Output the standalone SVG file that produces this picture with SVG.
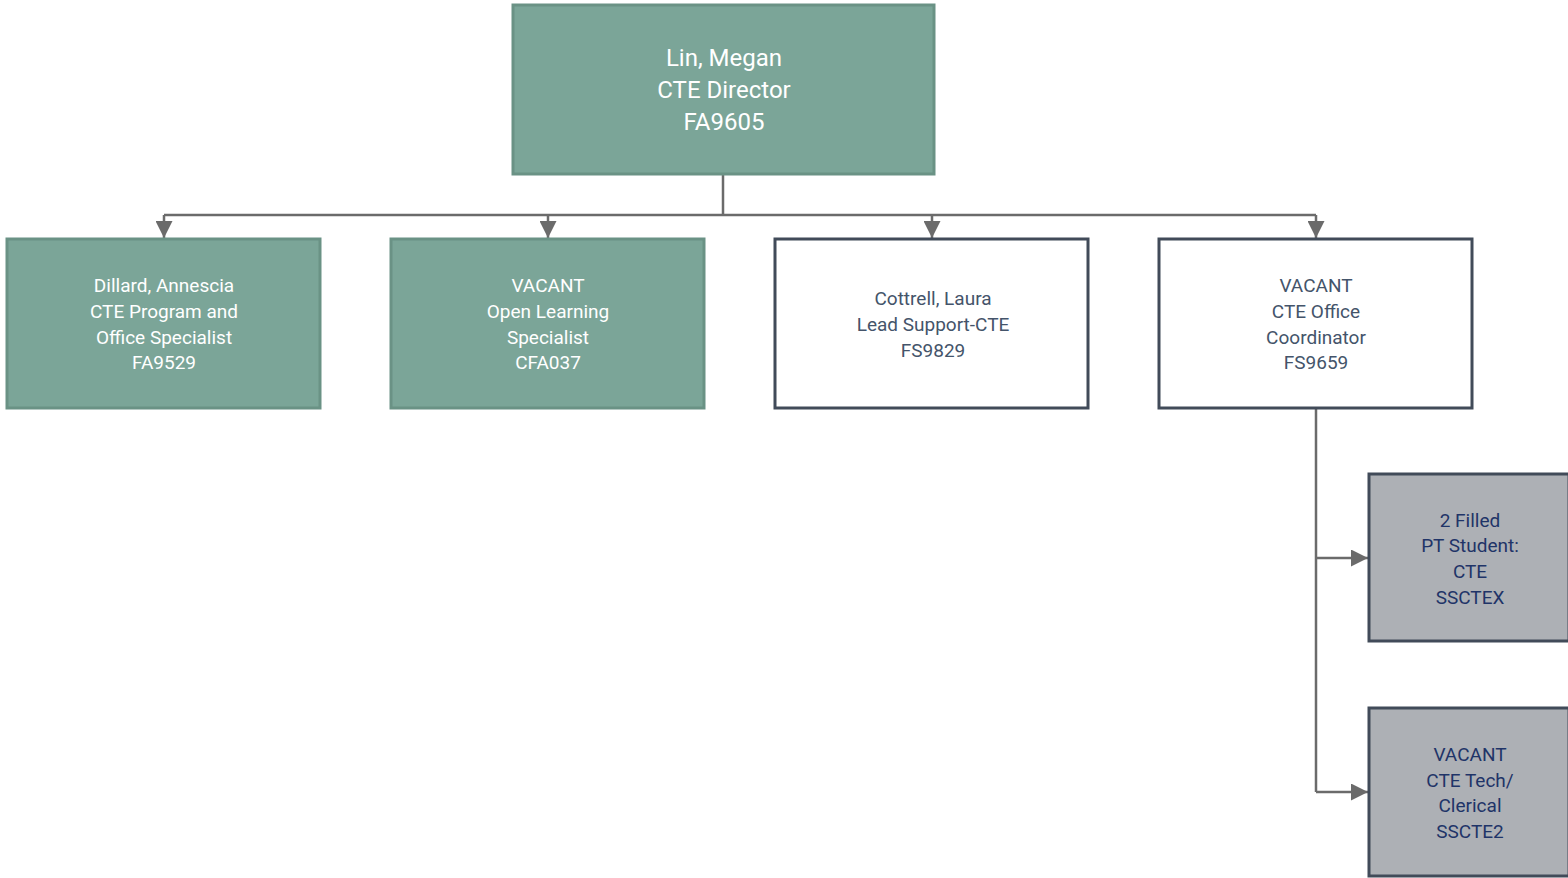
<svg xmlns="http://www.w3.org/2000/svg" width="1568" height="878" viewBox="0 0 1568 878">
<style>
.teal{fill:#7BA598;stroke:#6A9285;stroke-width:3}
.white{fill:#FFFFFF;stroke:#414B59;stroke-width:3}
.gray{fill:#ADB0B5;stroke:#414B59;stroke-width:3}
text{font-family:"Roboto","Liberation Sans",sans-serif;text-anchor:middle}
.tw{fill:#FFFFFF;font-size:19px}
.tt{fill:#FFFFFF;font-size:24px}
.td{fill:#44546A;font-size:19px}
.tn{fill:#1F3468;font-size:19px}
.conn{fill:none;stroke:#6B6B6B;stroke-width:2.5}
</style>
<defs>
<marker id="arr" viewBox="0 0 10 10" refX="10" refY="5" markerWidth="6.8" markerHeight="6.8" markerUnits="strokeWidth" orient="auto">
<path d="M0,0 L10,5 L0,10 Z" fill="#6B6B6B"/>
</marker>
</defs>
<g id="connectors">
<path class="conn" d="M723,175 V215"/>
<path class="conn" d="M164,215 H1316"/>
<path class="conn" d="M164,215 V238" marker-end="url(#arr)"/>
<path class="conn" d="M548,215 V238" marker-end="url(#arr)"/>
<path class="conn" d="M932,215 V238" marker-end="url(#arr)"/>
<path class="conn" d="M1316,215 V238" marker-end="url(#arr)"/>
<path class="conn" d="M1316,409 V792"/>
<path class="conn" d="M1316,558 H1368" marker-end="url(#arr)"/>
<path class="conn" d="M1316,792 H1368" marker-end="url(#arr)"/>
</g>
<g id="director">
<rect class="teal" x="513" y="5" width="421" height="169"/>
<text class="tt" x="724" y="66">Lin, Megan</text>
<text class="tt" x="724" y="98">CTE Director</text>
<text class="tt" x="724" y="130">FA9605</text>
</g>
<g id="dillard">
<rect class="teal" x="7" y="239" width="313" height="169"/>
<text class="tw" x="164" y="292">Dillard, Annescia</text>
<text class="tw" x="164" y="318">CTE Program and</text>
<text class="tw" x="164" y="344">Office Specialist</text>
<text class="tw" x="164" y="369">FA9529</text>
</g>
<g id="openlearning">
<rect class="teal" x="391" y="239" width="313" height="169"/>
<text class="tw" x="548" y="292">VACANT</text>
<text class="tw" x="548" y="318">Open Learning</text>
<text class="tw" x="548" y="344">Specialist</text>
<text class="tw" x="548" y="369">CFA037</text>
</g>
<g id="cottrell">
<rect class="white" x="775" y="239" width="313" height="169"/>
<text class="td" x="933" y="305">Cottrell, Laura</text>
<text class="td" x="933" y="331">Lead Support-CTE</text>
<text class="td" x="933" y="357">FS9829</text>
</g>
<g id="officecoord">
<rect class="white" x="1159" y="239" width="313" height="169"/>
<text class="td" x="1316" y="292">VACANT</text>
<text class="td" x="1316" y="318">CTE Office</text>
<text class="td" x="1316" y="344">Coordinator</text>
<text class="td" x="1316" y="369">FS9659</text>
</g>
<g id="students">
<rect class="gray" x="1369" y="474" width="200" height="167"/>
<text class="tn" x="1470" y="527">2 Filled</text>
<text class="tn" x="1470" y="552">PT Student:</text>
<text class="tn" x="1470" y="578">CTE</text>
<text class="tn" x="1470" y="604">SSCTEX</text>
</g>
<g id="techclerical">
<rect class="gray" x="1369" y="708" width="200" height="168"/>
<text class="tn" x="1470" y="761">VACANT</text>
<text class="tn" x="1470" y="787">CTE Tech/</text>
<text class="tn" x="1470" y="812">Clerical</text>
<text class="tn" x="1470" y="838">SSCTE2</text>
</g>
</svg>
